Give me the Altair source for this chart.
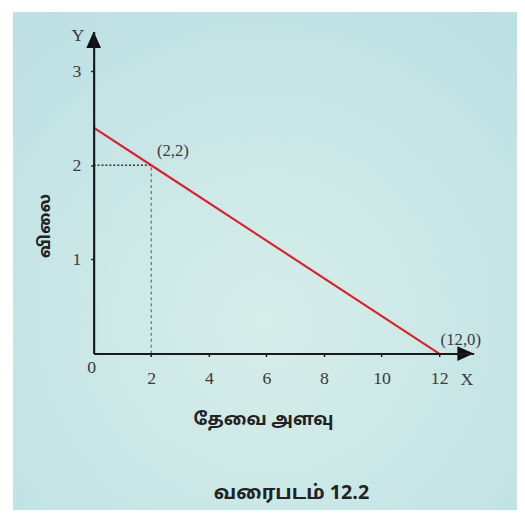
import altair as alt
import pandas as pd

# ---- data ----
line_x = [0, 2, 12]
line_y = [2.4, 2, 0]
label_x = [2, 12]
label_y = [2, 0]
label_text = ["(2,2)", "(12,0)"]
x_ticks = [2, 4, 6, 8, 10, 12]
y_ticks = [1, 2, 3]
x_max = 13.2
y_max = 3.42

x_title = "தேவை அளவு"
y_title = "விலை"
caption = "வரைபடம் 12.2"

line_df = pd.DataFrame({"x": line_x, "y": line_y})
lab_df = pd.DataFrame({"x": label_x, "y": label_y, "t": label_text})
hdot_df = pd.DataFrame({"x": [0, label_x[0]], "y": [label_y[0], label_y[0]]})
vdot_df = pd.DataFrame({"x": [label_x[0], label_x[0]], "y": [0, label_y[0]]})
origin_df = pd.DataFrame({"x": [0], "y": [0], "t": ["0"]})
yarrow_df = pd.DataFrame({"x": [0], "y": [y_max], "t": ["Y"]})
xarrow_df = pd.DataFrame({"x": [x_max], "y": [0], "t": ["X"]})

SERIF = "Liberation Serif, Times New Roman, serif"
TAMIL = "Noto Sans Tamil, Lohit Tamil, Noto Sans, sans-serif"
TXT = "#3a3a3a"

xscale = alt.Scale(domain=[0, x_max], nice=False, zero=False)
yscale = alt.Scale(domain=[0, y_max], nice=False, zero=False)

xenc = alt.X("x:Q", scale=xscale, axis=alt.Axis(
    values=x_ticks, title=x_title, grid=False, zindex=2,
    domainColor="#1a1a1a", domainWidth=2.2, tickColor="#1a1a1a", tickSize=3, tickWidth=1.5,
    labelFont=SERIF, labelFontSize=18, labelColor=TXT, labelPadding=13,
    titleFont=TAMIL, titleFontSize=18, titleFontWeight="bold", titleColor="#222",
    titleX=172, titleY=67, titleAlign="center", titleBaseline="middle"))
yenc = alt.Y("y:Q", scale=yscale, axis=alt.Axis(
    values=y_ticks, title=y_title, grid=False, zindex=2,
    domainColor="#1a1a1a", domainWidth=2.2, tickColor="#1a1a1a", tickSize=3, tickWidth=1.5,
    labelFont=SERIF, labelFontSize=18, labelColor=TXT, labelPadding=10,
    titleFont=TAMIL, titleFontSize=17, titleFontWeight="bold", titleColor="#222",
    titleX=-50, titleY=197, titleAlign="center", titleBaseline="middle", titleAngle=-90))

bg = alt.Chart(alt.Data(values=[{}])).mark_rect(
    fill=alt.RadialGradient(
        gradient="radial", x1=0.5, y1=0.62, x2=0.5, y2=0.62, r1=0, r2=0.75,
        stops=[alt.GradientStop(offset=0, color="#d7eeea"),
               alt.GradientStop(offset=1, color="#bde0e4")]),
).encode(x=alt.value(-82), x2=alt.value(430), y=alt.value(-20), y2=alt.value(486))

hdot = alt.Chart(hdot_df).mark_line(color="#333", strokeWidth=1.6, strokeDash=[2, 2]).encode(x=xenc, y=yenc)
vdot = alt.Chart(vdot_df).mark_line(color="#555", strokeWidth=1, strokeDash=[3, 3]).encode(x=xenc, y=yenc)
line = alt.Chart(line_df).mark_line(color="#d9232a", strokeWidth=2.2).encode(x=xenc, y=yenc)

labels = alt.Chart(lab_df).mark_text(font=SERIF, fontSize=17, color=TXT, align="center",
                                     dx=22, dy=-14).encode(x=xenc, y=yenc, text="t:N")
origin = alt.Chart(origin_df).mark_text(font=SERIF, fontSize=18, color=TXT, dx=-2, dy=15).encode(
    x=xenc, y=yenc, text="t:N")

yarrow = alt.Chart(yarrow_df).mark_point(shape="M0,0L0.45,1L-0.45,1Z", size=1100, filled=True,
                                         color="#111", opacity=1).encode(x=xenc, y=yenc)
xarrow = alt.Chart(xarrow_df).mark_point(shape="M0,0L-1,-0.45L-1,0.45Z", size=1100, filled=True,
                                         color="#111", opacity=1).encode(x=xenc, y=yenc)
ylab = alt.Chart(yarrow_df).mark_text(font=SERIF, fontSize=18, color=TXT, dx=-16, dy=5).encode(
    x=xenc, y=yenc, text="t:N")
xlab = alt.Chart(xarrow_df).mark_text(font=SERIF, fontSize=18, color=TXT, dx=-7, dy=27).encode(
    x=xenc, y=yenc, text="t:N")

cap = alt.Chart(alt.Data(values=[{}])).mark_text(
    font=TAMIL, fontSize=20, fontWeight="bold", color="#222", text=caption
).encode(x=alt.value(201), y=alt.value(469))

chart = alt.layer(bg, hdot, vdot, line, labels, origin, yarrow, xarrow, ylab, xlab, cap).properties(
    width=386, height=327,
    autosize=alt.AutoSizeParams(type="none"),
    padding={"left": 87, "top": 20, "right": 44, "bottom": 159},
    background="white",
).configure_view(stroke=None)

chart.save("out.html", embed_options={"renderer": "svg", "actions": False})
